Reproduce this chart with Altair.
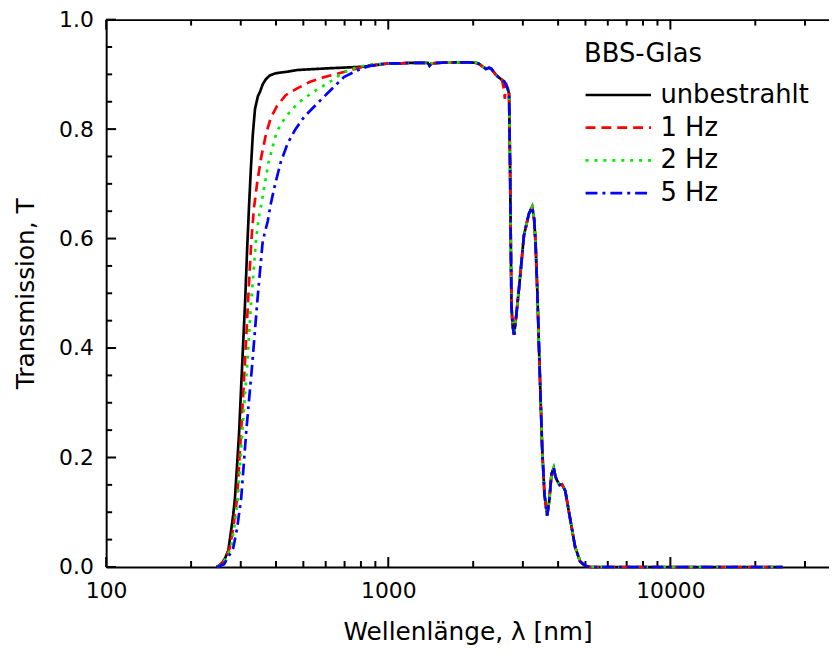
import altair as alt
import pandas as pd

FONT = "DejaVu Sans"

series_names = ["unbestrahlt", "1 Hz", "2 Hz", "5 Hz"]
series_colors = ["#000000", "#ff0000", "#00ee00", "#0000ff"]
series_dash = [[1, 0], [10, 6], [3, 6], [12, 5, 3, 5]]

# UV edge, per series (wavelength nm, transmission)
wl_black = [246, 252, 258, 264, 271, 277, 282, 286, 291, 296, 301, 306, 311, 316, 321, 326,
            331, 337, 345, 351, 359, 368, 380, 399, 440, 477, 608, 820]
t_black = [0.0, 0.003, 0.008, 0.016, 0.030, 0.065, 0.095, 0.125, 0.185, 0.246, 0.33, 0.41,
           0.487, 0.58, 0.66, 0.73, 0.79, 0.837, 0.86, 0.868, 0.882, 0.891, 0.898, 0.902,
           0.905, 0.908, 0.911, 0.914]

wl_1hz = [248, 258, 274, 282, 291, 301, 310, 318, 327, 334, 343, 354, 369, 383, 403, 433,
          474, 526, 584, 715, 841, 964]
t_1hz = [0.0, 0.006, 0.034, 0.07, 0.125, 0.25, 0.367, 0.48, 0.596, 0.655, 0.702, 0.747,
         0.792, 0.82, 0.842, 0.862, 0.874, 0.886, 0.894, 0.906, 0.916, 0.919]

wl_2hz = [248, 259, 277, 284, 293, 304, 316, 326, 340, 348, 354, 376, 402, 432, 477, 538,
          624, 696, 775, 861]
t_2hz = [0.0, 0.006, 0.034, 0.07, 0.125, 0.25, 0.367, 0.48, 0.599, 0.64, 0.66, 0.738, 0.795,
         0.822, 0.847, 0.867, 0.887, 0.904, 0.913, 0.918]

wl_5hz = [248, 262, 282, 291, 301, 314, 329, 344, 359, 374, 382, 397, 416, 440, 469, 503,
          553, 624, 696, 775, 852, 949]
t_5hz = [0.0, 0.005, 0.034, 0.07, 0.125, 0.25, 0.367, 0.49, 0.596, 0.632, 0.66, 0.699, 0.74,
         0.774, 0.80, 0.822, 0.844, 0.871, 0.895, 0.907, 0.915, 0.919]

# plateau and IR part shared by all samples
wl_ir_a = [1000, 1100, 1200, 1300, 1380, 1400, 1420, 1500, 1700, 1900, 2050, 2100, 2150,
           2220, 2280, 2320, 2400, 2470, 2530]
t_ir_a = [0.920, 0.920, 0.921, 0.921, 0.921, 0.916, 0.920, 0.921, 0.922, 0.922, 0.921,
          0.919, 0.915, 0.910, 0.912, 0.910, 0.900, 0.894, 0.890]

wl_ir_mid_1hz = [2575, 2590, 2610]
t_ir_mid_1hz = [0.870, 0.855, 0.885]
wl_ir_mid = [2575]
t_ir_mid = [0.887]

wl_ir_b = [2646, 2680, 2702, 2717, 2734, 2760, 2792, 2830, 2907, 3027, 3150, 3238, 3290,
           3327, 3373, 3417, 3464, 3512, 3578, 3657, 3720, 3790, 3858, 3910, 3965, 4050,
           4129, 4241, 4416, 4598, 4788, 4990, 5200, 6000, 8000, 10000, 15000, 20000, 25000]
t_ir_b = [0.875, 0.865, 0.736, 0.606, 0.476, 0.440, 0.424, 0.450, 0.509, 0.606, 0.645,
          0.658, 0.635, 0.593, 0.509, 0.412, 0.314, 0.217, 0.133, 0.094, 0.120, 0.170,
          0.181, 0.166, 0.158, 0.150, 0.151, 0.139, 0.087, 0.036, 0.010, 0.002, 0.0, 0.0,
          0.0, 0.0, 0.0, 0.0, 0.0]

x_major = [100, 1000, 10000]
x_minor = [200, 300, 400, 500, 600, 700, 800, 900, 2000, 3000, 4000, 5000, 6000, 7000,
           8000, 9000, 20000, 30000]
y_major = [0.0, 0.2, 0.4, 0.6, 0.8, 1.0]
y_minor = [0.05, 0.1, 0.15, 0.25, 0.3, 0.35, 0.45, 0.5, 0.55, 0.65, 0.7, 0.75, 0.85, 0.9, 0.95]

uv_parts = {
    "unbestrahlt": (wl_black, t_black, wl_ir_mid, t_ir_mid),
    "1 Hz": (wl_1hz, t_1hz, wl_ir_mid_1hz, t_ir_mid_1hz),
    "2 Hz": (wl_2hz, t_2hz, wl_ir_mid, t_ir_mid),
    "5 Hz": (wl_5hz, t_5hz, wl_ir_mid, t_ir_mid),
}
rows = []
for name in series_names:
    wuv, tuv, wm, tm = uv_parts[name]
    ws = wuv + wl_ir_a + wm + wl_ir_b
    ts = tuv + t_ir_a + tm + t_ir_b
    for w, t in zip(ws, ts):
        rows.append({"series": name, "wl": w, "T": t})
df = pd.DataFrame(rows)

W, H = 729, 552
MAJ, MIN = 10, 6

x_scale = alt.Scale(type="log", domain=[100, 36500], nice=False)
y_scale = alt.Scale(domain=[0, 1], nice=False, zero=False)

legend = alt.Legend(
    orient="none", legendX=482, legendY=22,
    titleFont=FONT, titleFontSize=26, titleFontWeight="normal", titleColor="black",
    titlePadding=13,
    labelFont=FONT, labelFontSize=26, labelColor="black", labelOffset=8,
    symbolType="stroke", symbolSize=4356, symbolStrokeWidth=2.7,
    clipHeight=30, rowPadding=3, padding=0,
)

DOM = dict(domain=True, domainColor="black", domainWidth=2, grid=False, ticks=False)

lines = alt.Chart(df).mark_line(strokeWidth=2.7).encode(
    x=alt.X("wl:Q", scale=x_scale, title="Wellenlänge, λ [nm]",
            axis=alt.Axis(orient="bottom", values=x_major, format="d", **DOM,
                          labelFont=FONT, labelFontSize=22, labelColor="black",
                          labelPadding=14, labelFlush=False,
                          titleFont=FONT, titleFontSize=25, titleFontWeight="normal",
                          titleColor="black", titlePadding=18)),
    y=alt.Y("T:Q", scale=y_scale, title="Transmission, T",
            axis=alt.Axis(orient="left", values=y_major, format=".1f", **DOM,
                          labelFont=FONT, labelFontSize=22, labelColor="black",
                          labelPadding=13,
                          titleFont=FONT, titleFontSize=25, titleFontWeight="normal",
                          titleColor="black", titlePadding=20)),
    color=alt.Color("series:N", scale=alt.Scale(domain=series_names, range=series_colors),
                    title="BBS-Glas", legend=legend),
    strokeDash=alt.StrokeDash("series:N",
                              scale=alt.Scale(domain=series_names, range=series_dash),
                              title="BBS-Glas", legend=legend),
)

top_domain = alt.Chart(pd.DataFrame({"v": [1000]})).mark_point(opacity=0, size=1).encode(
    x=alt.X("v:Q", scale=x_scale, title=None,
            axis=alt.Axis(orient="top", labels=False, **DOM)),
)


def x_ticks(vals, y0, y1):
    # inward tick marks along a horizontal edge, placed by the x scale
    return alt.Chart(pd.DataFrame({"xv": vals})).mark_rule(
        color="black", strokeWidth=2).encode(
        x=alt.X("xv:Q", scale=x_scale, axis=None),
        y=alt.value(y0), y2=alt.value(y1))


def y_ticks(vals, x0, x1):
    # inward tick marks along the left edge, placed by the y scale
    return alt.Chart(pd.DataFrame({"yv": vals})).mark_rule(
        color="black", strokeWidth=2).encode(
        y=alt.Y("yv:Q", scale=y_scale, axis=None),
        x=alt.value(x0), x2=alt.value(x1))


layers = [
    top_domain,
    x_ticks(x_major, H, H - MAJ),
    x_ticks(x_minor, H, H - MIN),
    x_ticks(x_major, 0, MAJ),
    x_ticks(x_minor, 0, MIN),
    y_ticks(y_major, 0, MAJ),
    y_ticks(y_minor, 0, MIN),
    lines,
]

chart = alt.layer(*layers).resolve_axis(x="independent", y="independent").properties(
    width=W, height=H,
    autosize=alt.AutoSizeParams(type="none"),
    padding={"left": 99, "top": 9, "right": 0, "bottom": 80},
).configure_view(strokeOpacity=0)

chart.save("out.html", embed_options={"renderer": "svg", "actions": False})
